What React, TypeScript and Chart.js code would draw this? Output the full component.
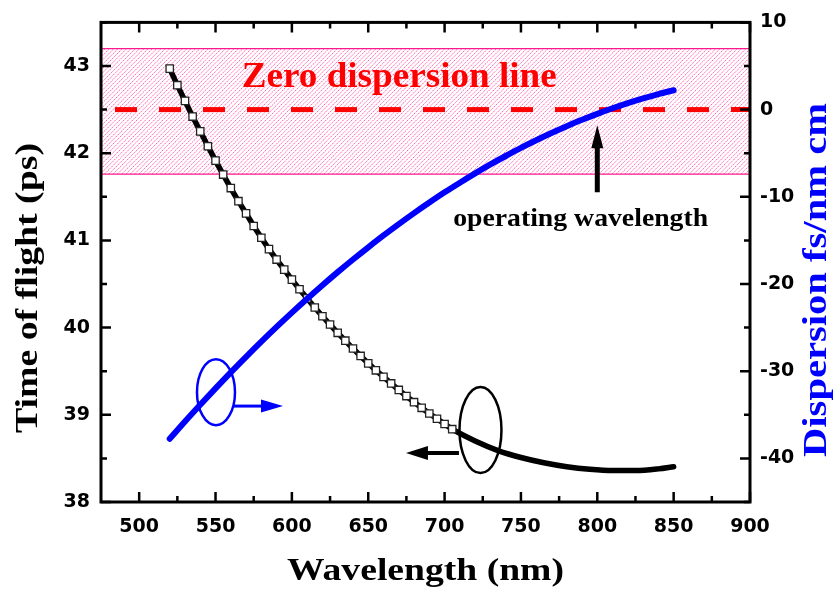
import React, { useEffect, useRef } from 'react';
import { Chart, registerables } from 'chart.js';

Chart.register(...registerables);

// ---- data ----
const markerWavelengths = [
  520, 525, 530, 535, 540, 545, 550, 555, 560, 565, 570, 575, 580, 585, 590, 595, 600, 605, 610,
  615, 620, 625, 630, 635, 640, 645, 650, 655, 660, 665, 670, 675, 680, 685, 690, 695, 700, 705,
];
const markerTof = [
  42.97, 42.78, 42.6, 42.42, 42.25, 42.08, 41.915, 41.755, 41.6, 41.45, 41.31, 41.165, 41.03, 40.9,
  40.78, 40.665, 40.55, 40.44, 40.335, 40.23, 40.13, 40.035, 39.94, 39.85, 39.76, 39.675, 39.59,
  39.51, 39.435, 39.36, 39.285, 39.215, 39.145, 39.08, 39.015, 38.955, 38.895, 38.835,
];
const tailWavelengths = [720, 735, 750, 765, 780, 795, 810, 825, 840, 850];
const tailTof = [38.7, 38.59, 38.51, 38.45, 38.405, 38.375, 38.36, 38.36, 38.38, 38.405];

const dispWavelengths = [
  520, 530, 540, 550, 560, 570, 580, 590, 600, 610, 620, 630, 640, 650, 660, 670, 680, 690, 700,
  710, 720, 730, 740, 750, 760, 770, 780, 790, 800, 810, 820, 830, 840, 850,
];
const dispValues = [
  -37.75, -35.77, -33.85, -31.97, -30.13, -28.35, -26.61, -24.92, -23.28, -21.69, -20.14, -18.64,
  -17.19, -15.79, -14.43, -13.13, -11.87, -10.66, -9.49, -8.38, -7.31, -6.29, -5.32, -4.39, -3.52,
  -2.69, -1.91, -1.17, -0.49, 0.15, 0.74, 1.28, 1.78, 2.22,
];

const bandRange = [475, 900];
const bandTop = 7;
const bandBottom = -7.4;
const zeroLine = 0;

const xMajorTicks = [500, 550, 600, 650, 700, 750, 800, 850, 900];
const xMinorTicks = [525, 575, 625, 675, 725, 775, 825, 875];
const yLeftMajorTicks = [38, 39, 40, 41, 42, 43];
const yLeftMinorTicks = [38.5, 39.5, 40.5, 41.5, 42.5, 43.5];
const yRightMajorTicks = [-40, -30, -20, -10, 0, 10];
const yRightMinorTicks = [-45, -35, -25, -15, -5, 5];

const xTitle = 'Wavelength (nm)';
const yLeftTitle = 'Time of flight (ps)';
const yRightTitle = 'Dispersion fs/nm cm';
const zeroLabel = 'Zero dispersion line';
const operatingLabel = 'operating wavelength';

const SERIF = '"Liberation Serif", "Times New Roman", serif';
const SANS = '"DejaVu Sans", Arial, sans-serif';

function stretchedText(
  ctx: CanvasRenderingContext2D,
  text: string,
  x: number,
  y: number,
  width: number,
  font: string,
  color: string,
  rotate: boolean,
) {
  ctx.save();
  ctx.font = font;
  ctx.fillStyle = color;
  const w = ctx.measureText(text).width;
  ctx.translate(x, y);
  if (rotate) ctx.rotate(-Math.PI / 2);
  ctx.scale(width / w, 1);
  ctx.textAlign = 'center';
  ctx.textBaseline = 'alphabetic';
  ctx.fillText(text, 0, 0);
  ctx.restore();
}

function arrow(
  ctx: CanvasRenderingContext2D,
  x1: number,
  y1: number,
  x2: number,
  y2: number,
  color: string,
  shaft: number,
  headLen: number,
  headHalf: number,
) {
  const ang = Math.atan2(y2 - y1, x2 - x1);
  const bx = x2 - Math.cos(ang) * headLen;
  const by = y2 - Math.sin(ang) * headLen;
  ctx.save();
  ctx.strokeStyle = color;
  ctx.fillStyle = color;
  ctx.lineWidth = shaft;
  ctx.lineCap = 'butt';
  ctx.beginPath();
  ctx.moveTo(x1, y1);
  ctx.lineTo(bx + Math.cos(ang) * 2, by + Math.sin(ang) * 2);
  ctx.stroke();
  ctx.beginPath();
  ctx.moveTo(x2, y2);
  ctx.lineTo(bx - Math.sin(ang) * headHalf, by + Math.cos(ang) * headHalf);
  ctx.lineTo(bx + Math.sin(ang) * headHalf, by - Math.cos(ang) * headHalf);
  ctx.closePath();
  ctx.fill();
  ctx.restore();
}

const hatchPlugin = {
  id: 'hatch',
  beforeDatasetsDraw(chart: any) {
    const { ctx, scales } = chart;
    const sx = scales.x;
    const yr = scales.yR;
    const left = sx.getPixelForValue(bandRange[0]);
    const right = sx.getPixelForValue(bandRange[1]);
    const top = yr.getPixelForValue(bandTop);
    const bottom = yr.getPixelForValue(bandBottom);
    const h = bottom - top;
    ctx.save();
    ctx.beginPath();
    ctx.rect(left, top, right - left, h);
    ctx.clip();
    ctx.strokeStyle = '#ff4aa5';
    ctx.lineWidth = 0.9;
    ctx.setLineDash([1.6, 0.9]);
    ctx.beginPath();
    for (let k = left - h; k < right + 4; k += 4.3) {
      ctx.moveTo(k, bottom);
      ctx.lineTo(k + h, top);
    }
    ctx.stroke();
    ctx.restore();
  },
};

const overlayPlugin = {
  id: 'overlay',
  afterDatasetsDraw(chart: any) {
    const { ctx, chartArea: ca, scales } = chart;
    const sx = scales.x;
    const yl = scales.yL;
    const yr = scales.yR;

    // annotations
    stretchedText(ctx, zeroLabel, sx.getPixelForValue(670.3), yr.getPixelForValue(2.55), 315, `bold 35px ${SERIF}`, '#ff0000', false);
    stretchedText(ctx, operatingLabel, sx.getPixelForValue(789.1), yr.getPixelForValue(-13.38), 255, `bold 26px ${SERIF}`, '#000000', false);

    // blue ellipse + arrow
    ctx.save();
    ctx.strokeStyle = '#0000ff';
    ctx.lineWidth = 2.5;
    ctx.beginPath();
    ctx.ellipse(sx.getPixelForValue(550.3), yr.getPixelForValue(-32.4), 19, 33, 0, 0, Math.PI * 2);
    ctx.stroke();
    ctx.restore();
    arrow(ctx, sx.getPixelForValue(561.5), yr.getPixelForValue(-34.0), sx.getPixelForValue(594.2), yr.getPixelForValue(-34.0), '#0000ff', 3, 22, 6.5);

    // black ellipse + arrow
    ctx.save();
    ctx.strokeStyle = '#000000';
    ctx.lineWidth = 2.5;
    ctx.beginPath();
    ctx.ellipse(sx.getPixelForValue(723.5), yl.getPixelForValue(38.825), 21, 43, 0, 0, Math.PI * 2);
    ctx.stroke();
    ctx.restore();
    arrow(ctx, sx.getPixelForValue(709.4), yl.getPixelForValue(38.561), sx.getPixelForValue(674.7), yl.getPixelForValue(38.561), '#000000', 4, 22, 7);

    // operating wavelength arrow
    arrow(ctx, sx.getPixelForValue(800), yr.getPixelForValue(-9.48), sx.getPixelForValue(800), yr.getPixelForValue(-1.8), '#000000', 5, 23, 6);

    // frame
    ctx.save();
    ctx.strokeStyle = '#000';
    ctx.lineWidth = 3;
    ctx.lineCap = 'square';
    ctx.strokeRect(ca.left, ca.top, ca.right - ca.left, ca.bottom - ca.top);
    ctx.lineWidth = 2.5;
    ctx.lineCap = 'butt';
    ctx.beginPath();
    const xt = (vals: number[], len: number) => {
      vals.forEach((v) => {
        const px = sx.getPixelForValue(v);
        ctx.moveTo(px, ca.bottom);
        ctx.lineTo(px, ca.bottom - len);
        ctx.moveTo(px, ca.top);
        ctx.lineTo(px, ca.top + len);
      });
    };
    xt(xMajorTicks, 10);
    xt(xMinorTicks, 6);
    yLeftMajorTicks.forEach((v) => {
      const py = yl.getPixelForValue(v);
      ctx.moveTo(ca.left, py);
      ctx.lineTo(ca.left + 10, py);
    });
    yLeftMinorTicks.forEach((v) => {
      const py = yl.getPixelForValue(v);
      ctx.moveTo(ca.left, py);
      ctx.lineTo(ca.left + 6, py);
    });
    yRightMajorTicks.forEach((v) => {
      const py = yr.getPixelForValue(v);
      ctx.moveTo(ca.right, py);
      ctx.lineTo(ca.right - 10, py);
    });
    yRightMinorTicks.forEach((v) => {
      const py = yr.getPixelForValue(v);
      ctx.moveTo(ca.right, py);
      ctx.lineTo(ca.right - 6, py);
    });
    ctx.stroke();
    ctx.restore();

    // axis titles
    stretchedText(ctx, xTitle, (ca.left + ca.right) / 2, 580, 277, `bold 32px ${SERIF}`, '#000000', false);
    stretchedText(ctx, yLeftTitle, 37, 288, 290, `bold 32px ${SERIF}`, '#000000', true);
    stretchedText(ctx, yRightTitle, 826, 280, 354, `bold 34px ${SERIF}`, '#0000ff', true);
  },
};

export default function App() {
  const canvasRef = useRef<HTMLCanvasElement | null>(null);

  useEffect(() => {
    const canvas = canvasRef.current;
    if (!canvas) return;

    const tickFont = { family: SANS, weight: 'bold' as const, size: 19 };
    const fixTicks = (vals: number[]) => (s: any) => {
      s.ticks = vals.map((value) => ({ value }));
    };

    const chart = new Chart(canvas, {
      type: 'line',
      data: {
        datasets: [
          {
            label: 'dispersion',
            data: dispWavelengths.map((x, i) => ({ x, y: dispValues[i] })),
            yAxisID: 'yR',
            borderColor: '#0000ff',
            borderWidth: 6,
            borderCapStyle: 'round',
            pointRadius: 0,
            cubicInterpolationMode: 'monotone',
            fill: false,
            order: 1,
          },
          {
            label: 'tof markers',
            data: markerWavelengths.map((x, i) => ({ x, y: markerTof[i] })),
            yAxisID: 'yL',
            showLine: false,
            pointStyle: 'rect',
            pointRadius: 5.2,
            pointBackgroundColor: '#ffffff',
            pointBorderColor: '#222222',
            pointBorderWidth: 1.3,
            fill: false,
            order: 2,
          },
          {
            label: 'tof',
            data: markerWavelengths
              .concat(tailWavelengths)
              .map((x, i) => ({ x, y: markerTof.concat(tailTof)[i] })),
            yAxisID: 'yL',
            borderColor: '#000000',
            borderWidth: 5.5,
            borderCapStyle: 'round',
            pointRadius: 0,
            cubicInterpolationMode: 'monotone',
            fill: false,
            order: 3,
          },
          {
            label: 'zero',
            data: bandRange.map((x) => ({ x, y: zeroLine })),
            yAxisID: 'yR',
            borderColor: '#ff0000',
            borderWidth: 5,
            borderDash: [22, 22],
            borderDashOffset: 30,
            pointRadius: 0,
            fill: false,
            order: 4,
          },
          {
            label: 'band top',
            data: bandRange.map((x) => ({ x, y: bandTop })),
            yAxisID: 'yR',
            borderColor: '#ff1a8c',
            borderWidth: 1.3,
            pointRadius: 0,
            fill: false,
            order: 5,
          },
          {
            label: 'band bottom',
            data: bandRange.map((x) => ({ x, y: bandBottom })),
            yAxisID: 'yR',
            borderColor: '#ff1a8c',
            borderWidth: 1.3,
            pointRadius: 0,
            fill: false,
            order: 6,
          },
        ],
      },
      options: {
        responsive: false,
        animation: false,
        layout: { padding: { top: 22, left: 0, right: 0, bottom: 0 } },
        plugins: { legend: { display: false }, tooltip: { enabled: false } },
        scales: {
          x: {
            type: 'linear',
            position: 'bottom',
            min: 475,
            max: 900,
            afterBuildTicks: fixTicks(xMajorTicks),
            afterFit: (s: any) => {
              s.height = 91;
            },
            grid: { display: false, drawTicks: false },
            border: { display: false },
            ticks: {
              padding: 14,
              color: '#000',
              font: tickFont,
              maxRotation: 0,
              autoSkip: false,
            },
          },
          yL: {
            type: 'linear',
            position: 'left',
            min: 38,
            max: 43.5,
            afterBuildTicks: fixTicks(yLeftMajorTicks),
            afterFit: (s: any) => {
              s.width = 101;
            },
            grid: { display: false, drawTicks: false },
            border: { display: false },
            ticks: {
              padding: 11,
              color: '#000',
              font: tickFont,
              autoSkip: false,
            },
          },
          yR: {
            type: 'linear',
            position: 'right',
            min: -45,
            max: 10,
            afterBuildTicks: fixTicks(yRightMajorTicks),
            afterFit: (s: any) => {
              s.width = 85;
            },
            grid: { display: false, drawTicks: false },
            border: { display: false },
            ticks: {
              padding: 10,
              color: '#000',
              font: tickFont,
              autoSkip: false,
            },
          },
        },
      } as any,
      plugins: [hatchPlugin, overlayPlugin],
    });

    return () => chart.destroy();
  }, []);

  return (
    <div style={{ position: 'absolute', left: 0, top: 0, width: 835, height: 593, background: '#fff' }}>
      <canvas ref={canvasRef} width={835} height={593} style={{ display: 'block' }} />
    </div>
  );
}
